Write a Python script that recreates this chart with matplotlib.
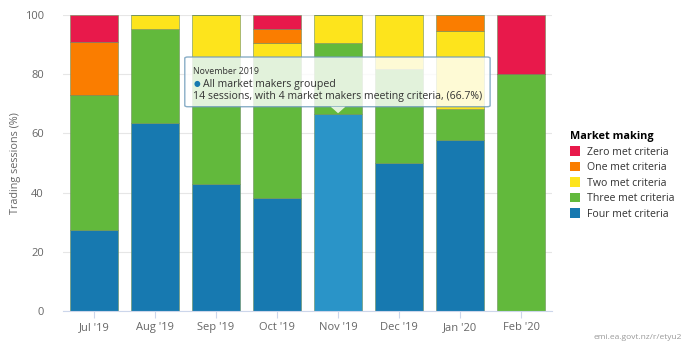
import numpy as np
import matplotlib.pyplot as plt
from matplotlib.patches import FancyBboxPatch, Polygon

plt.rcParams['font.family'] = ['Open Sans', 'DejaVu Sans']

# Monthly share of trading sessions (%)
months = ["Jul '19", "Aug '19", "Sep '19", "Oct '19", "Nov '19", "Dec '19", "Jan '20", "Feb '20"]
four_met = [27.3, 63.6, 42.9, 38.1, 66.7, 50.0, 57.9, 0.0]
three_met = [45.5, 31.8, 42.9, 47.6, 23.8, 31.8, 10.5, 80.0]
two_met = [0.0, 4.6, 14.2, 4.8, 9.5, 18.2, 26.3, 0.0]
one_met = [18.1, 0.0, 0.0, 4.8, 0.0, 0.0, 5.3, 0.0]
zero_met = [9.1, 0.0, 0.0, 4.7, 0.0, 0.0, 0.0, 20.0]

series = [
    ("Four met criteria", four_met, "#1779b0"),
    ("Three met criteria", three_met, "#62b93c"),
    ("Two met criteria", two_met, "#fde41c"),
    ("One met criteria", one_met, "#fa7d00"),
    ("Zero met criteria", zero_met, "#e8194b"),
]

fig = plt.figure(figsize=(6.9, 3.45), dpi=100)
ax = fig.add_axes([0.0917, 0.0986, 0.708, 0.858])

x = np.arange(len(months))
bottom = np.zeros(len(months))
handles = {}
for name, vals, color in series:
    vals = np.array(vals)
    bars = ax.bar(x, vals, width=0.78, bottom=bottom, color=color,
                  edgecolor="#6d8f5a", linewidth=0.4, zorder=2)
    handles[name] = bars
    bottom += vals

# hovered column is highlighted
handles["Four met criteria"][4].set_facecolor("#2a94c8")

ax.set_xlim(-0.5, len(months) - 0.5)
ax.set_ylim(0, 100)
ax.set_yticks([0, 20, 40, 60, 80, 100])
ax.set_xticks(x)
ax.set_xticklabels(months)
ax.tick_params(axis="y", length=0, colors="#666666", labelsize=8, pad=14)
ax.tick_params(axis="x", length=5, color="#ccd6eb", colors="#666666", labelsize=8, pad=3)
ax.yaxis.grid(True, color="#e6e6e6", linewidth=0.8, zorder=0)
for s in ["top", "right", "left"]:
    ax.spines[s].set_visible(False)
ax.spines["bottom"].set_color("#ccd6eb")
ax.set_ylabel("Trading sessions (%)", color="#666666", fontsize=7.8, labelpad=2.5)

# tooltip
tip = FancyBboxPatch((1.49, 69.0), 5.0, 16.8, boxstyle="round,pad=0,rounding_size=0.05",
                     facecolor="white", alpha=0.82, edgecolor="#6f9cbb", linewidth=1.0,
                     zorder=5, mutation_aspect=8)
ax.add_patch(tip)
ax.add_patch(Polygon([[3.88, 69.0], [4.0, 66.8], [4.12, 69.0]], closed=True,
                     facecolor="white", alpha=0.82, edgecolor="none", zorder=5))
ax.text(1.63, 81.0, "November 2019", fontsize=6.3, color="#333333", zorder=6, va="center")
ax.text(1.63, 76.6, "\u25CF", fontsize=5.5, color="#1779b0", zorder=6, va="center")
ax.text(1.79, 76.6, "All market makers grouped", fontsize=7.6, color="#333333", zorder=6, va="center")
ax.text(1.63, 72.3, "14 sessions, with 4 market makers meeting criteria, (66.7%)",
        fontsize=7.6, color="#333333", zorder=6, va="center")

# legend
order = ["Zero met criteria", "One met criteria", "Two met criteria",
         "Three met criteria", "Four met criteria"]
leg = fig.legend([handles[n][0] for n in order], order, loc="upper left",
                 bbox_to_anchor=(0.812, 0.648), frameon=False, fontsize=7.6,
                 title="Market making", handlelength=1.0, handleheight=1.0,
                 handletextpad=0.6, labelspacing=0.4, alignment="left")
leg.get_title().set_fontweight("bold")
leg.get_title().set_fontsize(7.8)
for h in leg.legend_handles:
    h.set_edgecolor("none")
for t in leg.get_texts():
    t.set_color("#333333")

fig.text(0.988, 0.018, "emi.ea.govt.nz/r/etyu2", fontsize=6, color="#999999", ha="right")

fig.savefig("out.png", dpi=100)
